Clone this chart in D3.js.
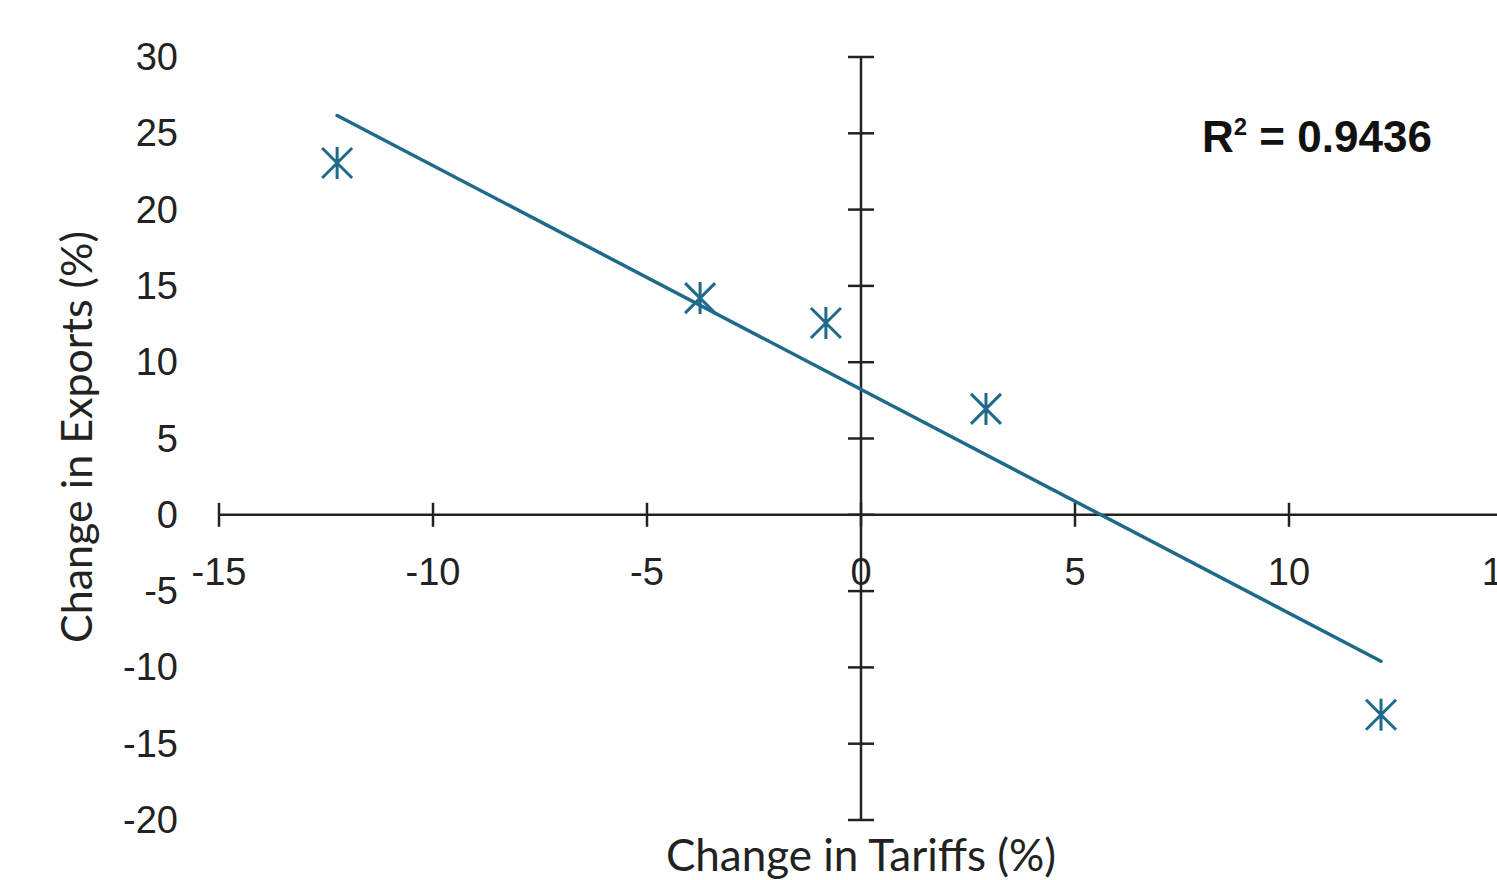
<!DOCTYPE html>
<html>
<head>
<meta charset="utf-8">
<script src="https://cdn.jsdelivr.net/npm/d3@7"></script>
<style>
  body { margin: 0; background: #fff; }
  svg { display: block; }
</style>
</head>
<body>
<div class="chart"></div>
<script>
// data
var tariffs = [-12.24, -3.76, -0.82, 2.92, 12.15];
var exports = [23.05, 14.2, 12.57, 6.94, -13.1];
var xTicks = [-15, -10, -5, 0, 5, 10, 15];
var yTicks = [-20, -15, -10, -5, 0, 5, 10, 15, 20, 25, 30];
var rSquaredLabel = "0.9436";

var width = 1497, height = 880;
var color = "#1f6a8a";
var axisColor = "#222";

var svg = d3.select('.chart')
    .append('svg')
    .attr('width', width)
    .attr('height', height);

var x = d3.scaleLinear().domain([-15, 15]).range([219, 1503]);
var y = d3.scaleLinear().domain([-20, 30]).range([820, 57]);

// horizontal axis at y = 0
svg.append('line')
    .attr('x1', x(-15)).attr('x2', x(15))
    .attr('y1', y(0)).attr('y2', y(0))
    .style('stroke', axisColor).style('stroke-width', 2.5);

svg.selectAll('.xtick')
    .data(xTicks)
    .enter()
    .append('line')
    .attr('class', 'xtick')
    .attr('x1', function(d){ return x(d); })
    .attr('x2', function(d){ return x(d); })
    .attr('y1', y(0) - 12)
    .attr('y2', y(0) + 12)
    .style('stroke', axisColor).style('stroke-width', 2.5);

svg.selectAll('.xlabel')
    .data(xTicks)
    .enter()
    .append('text')
    .attr('class', 'xlabel')
    .attr('x', function(d){ return x(d); })
    .attr('y', y(0) + 70)
    .style('text-anchor', 'middle')
    .style('font-family', 'Liberation Sans, Arial, sans-serif')
    .style('font-size', '38px')
    .style('fill', '#222')
    .text(function(d){ return d; });

// vertical axis at x = 0
svg.append('line')
    .attr('x1', x(0)).attr('x2', x(0))
    .attr('y1', y(-20)).attr('y2', y(30))
    .style('stroke', axisColor).style('stroke-width', 2.5);

svg.selectAll('.ytick')
    .data(yTicks)
    .enter()
    .append('line')
    .attr('class', 'ytick')
    .attr('x1', x(0) - 13)
    .attr('x2', x(0) + 13)
    .attr('y1', function(d){ return y(d); })
    .attr('y2', function(d){ return y(d); })
    .style('stroke', axisColor).style('stroke-width', 2.5);

svg.selectAll('.ylabel')
    .data(yTicks)
    .enter()
    .append('text')
    .attr('class', 'ylabel')
    .attr('x', 178)
    .attr('y', function(d){ return y(d) + 13; })
    .style('text-anchor', 'end')
    .style('font-family', 'Liberation Sans, Arial, sans-serif')
    .style('font-size', '38px')
    .style('fill', '#222')
    .text(function(d){ return d; });

// linear trendline (least squares over the points)
var mx = d3.mean(tariffs), my = d3.mean(exports);
var sxy = d3.sum(tariffs, function(t, i){ return (t - mx) * (exports[i] - my); });
var sxx = d3.sum(tariffs, function(t){ return (t - mx) * (t - mx); });
var slope = sxy / sxx, intercept = my - slope * mx;
var xExt = d3.extent(tariffs);

svg.append('line')
    .attr('x1', x(xExt[0])).attr('y1', y(intercept + slope * xExt[0]))
    .attr('x2', x(xExt[1])).attr('y2', y(intercept + slope * xExt[1]))
    .style('stroke', color).style('stroke-width', 3.5)
    .style('stroke-linecap', 'round');

// star markers
var s = 15;
svg.selectAll('.marker')
    .data(d3.zip(tariffs, exports))
    .enter()
    .append('path')
    .attr('class', 'marker')
    .attr('d', function(d){
        var cx = x(d[0]), cy = y(d[1]);
        return 'M' + (cx - s) + ',' + (cy - s) + 'L' + (cx + s) + ',' + (cy + s) +
               'M' + (cx - s) + ',' + (cy + s) + 'L' + (cx + s) + ',' + (cy - s) +
               'M' + cx + ',' + (cy - s - 1) + 'L' + cx + ',' + (cy + s + 1);
    })
    .style('stroke', color).style('stroke-width', 3)
    .style('fill', 'none');

// R squared label
var r2 = svg.append('text')
    .attr('x', 1202)
    .attr('y', 152)
    .style('font-family', 'Liberation Sans, Arial, sans-serif')
    .style('font-weight', 'bold')
    .style('font-size', '44px')
    .style('fill', '#111');
r2.append('tspan').text('R');
r2.append('tspan').attr('dy', -17).style('font-size', '24px').text('2');
r2.append('tspan').attr('dy', 17).text(' = ' + rSquaredLabel);

// axis titles
svg.append('text')
    .attr('x', 861)
    .attr('y', 871)
    .style('text-anchor', 'middle')
    .style('font-family', 'Lato, sans-serif')
    .style('font-size', '44px')
    .style('fill', '#222')
    .text('Change in Tariffs (%)');

svg.append('text')
    .attr('transform', 'translate(92,437) rotate(-90)')
    .style('text-anchor', 'middle')
    .style('font-family', 'Lato, sans-serif')
    .style('font-size', '43px')
    .style('fill', '#222')
    .text('Change in Exports (%)');
</script>
</body>
</html>
